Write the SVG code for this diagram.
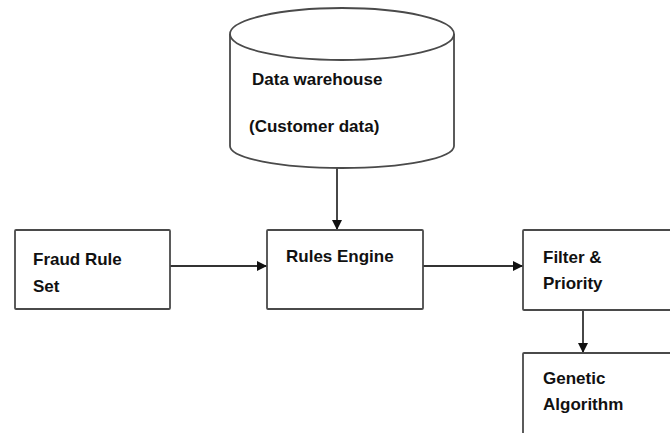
<svg xmlns="http://www.w3.org/2000/svg" width="670" height="433" viewBox="0 0 670 433">
<defs>
<marker id="ah" markerWidth="12" markerHeight="12" refX="10" refY="6" orient="auto" markerUnits="userSpaceOnUse">
<path d="M0,1 L10,6 L0,11 Z" fill="#111"/>
</marker>
<style>
.shape{fill:#fff;stroke:#4a4a4a;stroke-width:1.8}
.conn{fill:none;stroke:#333;stroke-width:1.8;marker-end:url(#ah)}
.lbl{font-family:"Liberation Sans",Arial,sans-serif;font-weight:bold;font-size:17px;fill:#111}
</style>
</defs>
<rect width="670" height="433" fill="#fff"/>
<g id="connectors">
<line class="conn" x1="337" y1="168" x2="337" y2="230"/>
<line class="conn" x1="170" y1="266" x2="267" y2="266"/>
<line class="conn" x1="423" y1="266" x2="523" y2="266"/>
<line class="conn" x1="583" y1="310" x2="583" y2="353"/>
</g>
<g id="datawarehouse">
<path class="shape" d="M230,34 L230,146 A112,22 0 0 0 454,146 L454,34 A112,26 0 0 0 230,34 Z"/>
<path class="shape" fill="none" d="M230,34 A112,26 0 0 0 454,34"/>
<text class="lbl" x="252" y="85">Data warehouse</text>
<text class="lbl" x="249" y="132">(Customer data)</text>
</g>
<g id="fraudruleset">
<rect class="shape" x="15" y="230" width="155" height="79" rx="1"/>
<text class="lbl" x="33" y="265">Fraud Rule</text>
<text class="lbl" x="33" y="292">Set</text>
</g>
<g id="rulesengine">
<rect class="shape" x="267" y="230" width="156" height="79" rx="1"/>
<text class="lbl" x="286" y="262">Rules Engine</text>
</g>
<g id="filterpriority">
<rect class="shape" x="523" y="230" width="160" height="80" rx="1"/>
<text class="lbl" x="543" y="263">Filter &amp;</text>
<text class="lbl" x="543" y="289">Priority</text>
</g>
<g id="geneticalgorithm">
<rect class="shape" x="523" y="353" width="160" height="100" rx="1"/>
<text class="lbl" x="543" y="384">Genetic</text>
<text class="lbl" x="543" y="410">Algorithm</text>
</g>
</svg>
